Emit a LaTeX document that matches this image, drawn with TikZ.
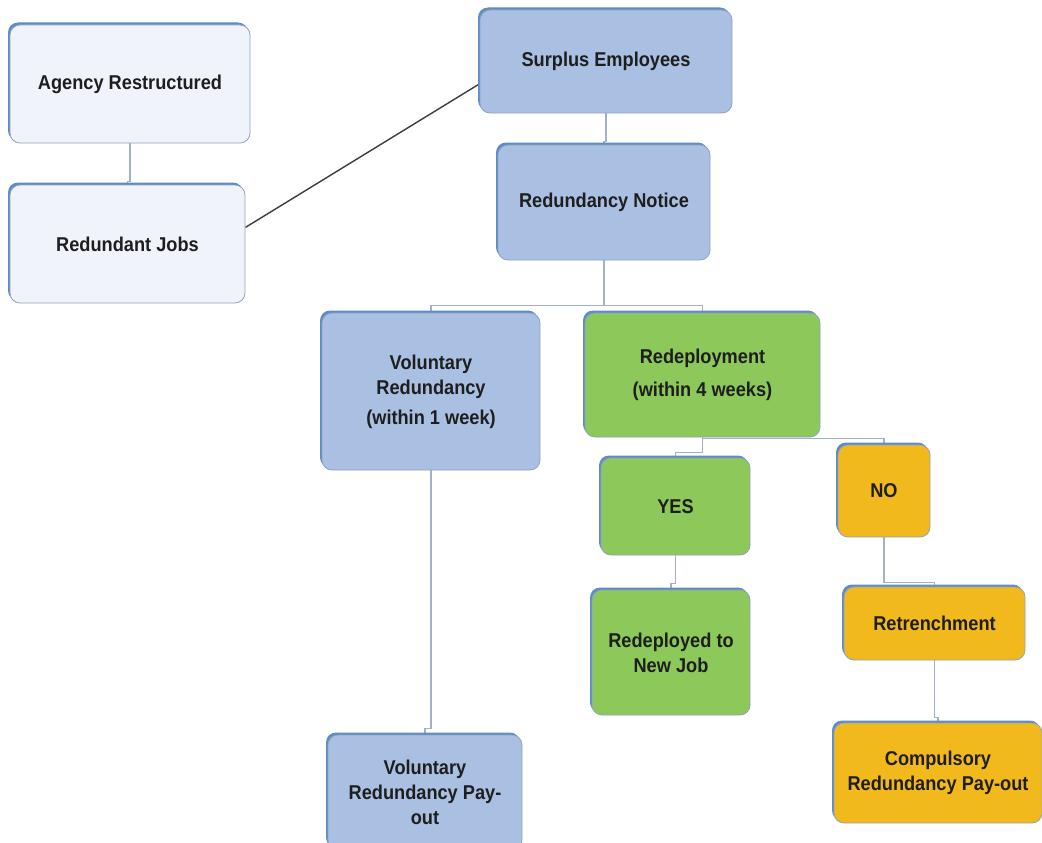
\documentclass[tikz,border=0pt]{standalone}
\usepackage{fontspec}
\setmainfont{Liberation Sans}[FakeStretch=0.91]
\usetikzlibrary{shadows,backgrounds}
\definecolor{lightfill}{HTML}{F0F4FA}
\definecolor{bluefill}{HTML}{AAC0E2}
\definecolor{greenfill}{HTML}{8DC85A}
\definecolor{yellowfill}{HTML}{F2B91C}
\definecolor{edgeblue}{HTML}{5E8CC6}
\definecolor{rimgray}{HTML}{8FA3BD}
\definecolor{connc}{HTML}{A3B1C4}
\definecolor{darkline}{HTML}{3C3C3C}
\definecolor{txt}{HTML}{1E1E1E}
\begin{document}
\begin{tikzpicture}[x=1pt,y=-1pt,
  box/.style={rectangle, rounded corners=10pt, draw=rimgray, line width=0.8pt,
    align=center, font=\fontsize{20}{25}\selectfont\bfseries, text=txt, inner sep=0pt,
    general shadow={fill=edgeblue, shadow xshift=-2pt, shadow yshift=2.5pt}},
  lightbox/.style={box, fill=lightfill},
  bluebox/.style={box, fill=bluefill},
  greenbox/.style={box, fill=greenfill},
  yellowbox/.style={box, fill=yellowfill},
  conn/.style={draw=connc, line width=1.3pt},
  darkconn/.style={draw=darkline, line width=1.4pt}]
\useasboundingbox (0,0) rectangle (1042,843);
\begin{scope}
\clip (0,0) rectangle (1042,843);
\node[lightbox, minimum width=240pt, minimum height=118pt] (ar) at (130,84) {Agency Restructured};
\node[lightbox, minimum width=235pt, minimum height=118pt] (rj) at (127.5,244) {Redundant Jobs};
\node[bluebox, minimum width=252pt, minimum height=103pt] (se) at (606,61.5) {Surplus Employees};
\node[bluebox, minimum width=212pt, minimum height=115pt] (rn) at (604,202.5) {Redundancy Notice};
\node[bluebox, minimum width=218pt, minimum height=157pt] (vr) at (431,391.5) {Voluntary\\Redundancy\\[5pt](within 1 week)};
\node[greenbox, minimum width=235pt, minimum height=124pt] (rd) at (702.5,375) {Redeployment\\[8pt](within 4 weeks)};
\node[greenbox, minimum width=149pt, minimum height=97pt] (yes) at (675.5,506.5) {YES};
\node[yellowbox, minimum width=92pt, minimum height=92pt] (no) at (884,491) {NO};
\node[greenbox, minimum width=158pt, minimum height=125pt] (rnj) at (671,652.5) {Redeployed to\\New Job};
\node[yellowbox, minimum width=181pt, minimum height=73pt] (ret) at (934.5,623.5) {Retrenchment};
\node[yellowbox, minimum width=208pt, minimum height=100pt] (crp) at (938,773) {Compulsory\\Redundancy Pay-out};
\node[bluebox, minimum width=194pt, minimum height=115pt] (vrp) at (425,792.5) {Voluntary\\Redundancy Pay-\\out};
\begin{scope}[on background layer]
\draw[conn] (ar.south) -- ++(0,38) -| (rj.north);
\draw[darkconn] (rj.8) -- (se.190);
\draw[conn] (se.south) -- ++(0,28) -| (rn.north);
\draw[conn] (rn.south) -- ++(0,45) coordinate (bus);
\draw[conn] (bus) -| (vr.north);
\draw[conn] (bus) -| (rd.north);
\draw[conn] (rd.south) -- ++(0,15) -| (yes.north);
\draw[conn] (rd.south) ++(0,1) -| (no.north);
\draw[conn] (yes.south) -- ++(0,28) -| (rnj.north);
\draw[conn] (no.south) -- ++(0,45) -| (ret.north);
\draw[conn] (ret.south) -- ++(0,57) -| (crp.north);
\draw[conn] (vr.south) -- ++(0,258) -| (vrp.north);
\end{scope}
\end{scope}
\end{tikzpicture}
\end{document}
